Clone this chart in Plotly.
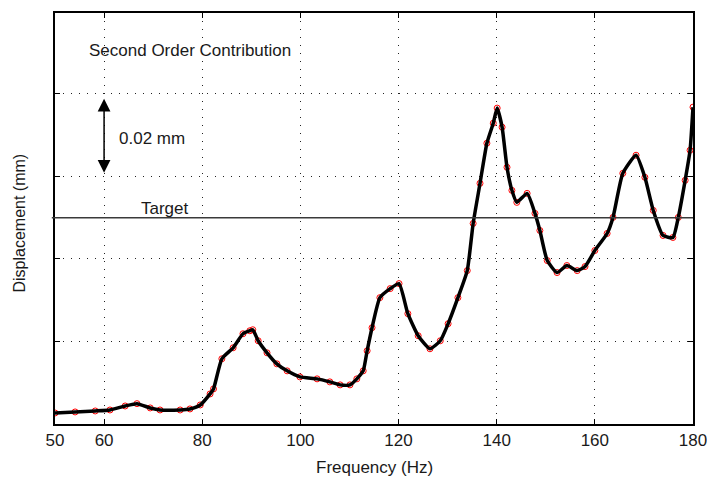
import plotly.graph_objects as go

# Frequency (Hz) and displacement (mm)
freq = [50.0, 54.1, 58.2, 61.2, 64.3, 66.7, 69.4, 71.4, 75.5, 77.5, 79.6, 81.6, 82.3,
        84.0, 86.3, 88.3, 89.7, 90.3, 91.4, 93.2, 95.2, 97.3, 99.9, 103.4, 106.0,
        108.1, 110.1, 111.5, 112.8, 113.6, 114.6, 116.2, 118.3, 120.1, 121.9, 124.0,
        126.4, 128.5, 130.1, 132.1, 134.0, 135.2, 136.6, 138.0, 139.3, 140.1, 141.1,
        142.1, 143.1, 144.1, 146.2, 147.8, 148.8, 150.3, 152.3, 154.3, 156.4, 158.0,
        160.0, 162.5, 163.7, 165.7, 168.4, 170.2, 171.9, 173.9, 175.9, 177.0, 178.4,
        179.4, 180.0]
disp = [0.00267, 0.00292, 0.00316, 0.00340, 0.00437, 0.00493, 0.00389, 0.00340, 0.00340,
        0.00365, 0.00462, 0.00729, 0.00850, 0.01580, 0.01847, 0.02187, 0.02260, 0.02284,
        0.02017, 0.01725, 0.01458, 0.01288, 0.01142, 0.01094, 0.01021, 0.00948, 0.00948,
        0.01094, 0.01288, 0.01774, 0.02333, 0.03062, 0.03281, 0.03402, 0.02673, 0.02139,
        0.01823, 0.02017, 0.02430, 0.03062, 0.03718, 0.04860, 0.05832, 0.06804, 0.07290,
        0.07655, 0.07193, 0.06221, 0.05662, 0.05371, 0.05589, 0.05103, 0.04690, 0.03961,
        0.03670, 0.03840, 0.03718, 0.03815, 0.04204, 0.04617, 0.05006, 0.06075, 0.06513,
        0.05978, 0.05176, 0.04569, 0.04520, 0.05006, 0.05905, 0.06634, 0.07679]

x_ticks = [50, 60, 80, 100, 120, 140, 160, 180]
y_ticks = [0.02, 0.04, 0.06, 0.08]
target = 0.05
arrow_x = 60
arrow_from, arrow_to = 0.0788, 0.0605

FONT = "Liberation Sans, Arial, sans-serif"
TXT = "#1a1a1a"

fig = go.Figure()
fig.add_trace(go.Scatter(x=freq, y=disp, mode="markers",
                         marker=dict(symbol="circle-open", size=6, color="red",
                                     line=dict(width=1, color="red")),
                         hoverinfo="skip", showlegend=False))
fig.add_trace(go.Scatter(x=freq, y=disp, mode="lines",
                         line=dict(color="black", width=3.5, shape="spline", smoothing=0.5),
                         showlegend=False))

fig.add_shape(type="line", xref="paper", x0=-0.005, x1=1, yref="y", y0=target, y1=target,
              line=dict(color="#3a3a3a", width=1.5))

fig.add_annotation(x=arrow_x, y=arrow_from, ax=arrow_x, ay=arrow_to,
                   xref="x", yref="y", axref="x", ayref="y",
                   showarrow=True, arrowside="end+start", arrowhead=2,
                   startarrowhead=2, arrowsize=1.7, startarrowsize=1.7,
                   arrowwidth=1.5, arrowcolor="black", text="")

fig.add_annotation(x=56.5, y=0.0906, xref="x", yref="y", text="Second Order Contribution",
                   showarrow=False, xanchor="left", font=dict(size=17, color=TXT, family=FONT))
fig.add_annotation(x=62.6, y=0.0693, xref="x", yref="y", text="0.02 mm",
                   showarrow=False, xanchor="left", font=dict(size=17, color=TXT, family=FONT))
fig.add_annotation(x=67.2, y=0.0522, xref="x", yref="y", text="Target",
                   showarrow=False, xanchor="left", font=dict(size=17, color=TXT, family=FONT))

fig.add_annotation(x=-0.055, y=0.49, xref="paper", yref="paper", text="Displacement (mm)",
                   textangle=-90, showarrow=False, xanchor="center", yanchor="middle",
                   font=dict(size=16, color=TXT, family=FONT))
fig.add_annotation(x=0.5, y=-0.105, xref="paper", yref="paper", text="Frequency (Hz)",
                   showarrow=False, xanchor="center", yanchor="middle",
                   font=dict(size=17, color=TXT, family=FONT))

axis_common = dict(showline=True, linecolor="black", linewidth=1.5, mirror="ticks",
                   ticks="inside", ticklen=5, tickcolor="black", tickwidth=1,
                   showgrid=True, gridcolor="#222222", gridwidth=1, griddash="1px,7px",
                   zeroline=False, automargin=False)

fig.update_xaxes(range=[50, 180], tickvals=x_ticks, ticktext=[str(v) for v in x_ticks],
                 tickfont=dict(size=17, color=TXT, family=FONT),
                 ticklabeloverflow="allow", **axis_common)
fig.update_yaxes(range=[0, 0.0996], tickvals=y_ticks, showticklabels=False, **axis_common)

fig.update_layout(width=707, height=481, autosize=False,
                  margin=dict(l=55, r=14, t=13, b=57),
                  paper_bgcolor="white", plot_bgcolor="white",
                  font=dict(family=FONT, color=TXT))

fig.write_html("out.html")
